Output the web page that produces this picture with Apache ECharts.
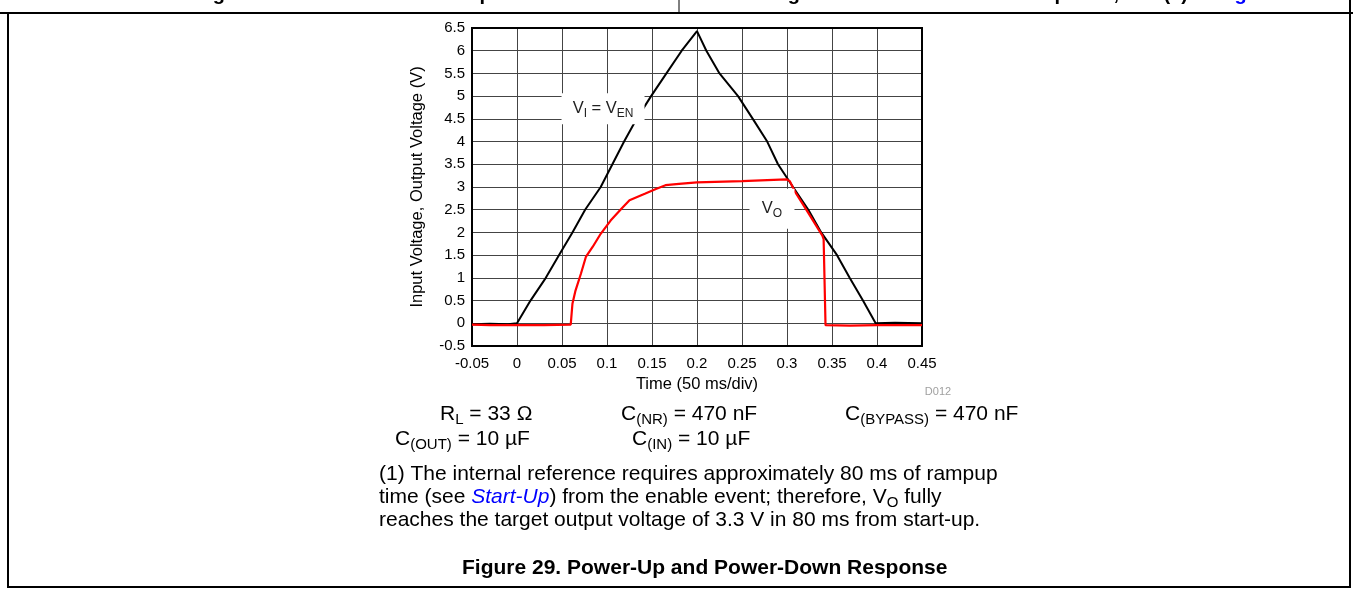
<!DOCTYPE html>
<html><head><meta charset="utf-8">
<script src="https://cdn.jsdelivr.net/npm/echarts@6/dist/echarts.min.js"></script>
<style>html,body{margin:0;padding:0;background:#fff}#c{width:1353px;height:592px}</style>
</head><body><div id="c"></div>
<script>
// ---- data ----
const xTickLabels = ['-0.05','0','0.05','0.1','0.15','0.2','0.25','0.3','0.35','0.4','0.45'];
const yTickLabels = ['-0.5','0','0.5','1','1.5','2','2.5','3','3.5','4','4.5','5','5.5','6','6.5'];
const viTime = [-0.05,-0.03,-0.01,0,0.015,0.032,0.0466,0.0616,0.0757,0.093,0.106,0.119,0.133,0.149,0.166,0.183,0.2,0.2104,0.225,0.2456,0.262,0.278,0.290,0.3067,0.3237,0.338,0.3556,0.3696,0.3844,0.3985,0.42,0.45];
const viVolt = [-0.02,-0.01,-0.02,0,0.5,1.0,1.5,2.0,2.5,3.0,3.5,4.0,4.5,5.0,5.5,6.0,6.43,6.0,5.5,5.0,4.5,4.0,3.5,3.0,2.5,2.0,1.5,1.0,0.5,0,0.01,0.0];
const voTime = [-0.05,-0.03,0,0.03,0.0597,0.0616,0.065,0.071,0.0765,0.084,0.093,0.104,0.116,0.125,0.142,0.155,0.165,0.18,0.2,0.25,0.2993,0.303,0.3085,0.3233,0.3393,0.3407,0.3428,0.37,0.4,0.45];
const voVolt = [-0.03,-0.04,-0.04,-0.04,-0.03,0.43,0.72,1.09,1.46,1.68,1.97,2.26,2.52,2.71,2.85,2.96,3.04,3.07,3.1,3.13,3.17,3.13,2.91,2.44,1.93,1.85,-0.04,-0.05,-0.04,-0.04];

const FONT = "'Liberation Sans', Arial, sans-serif";
const chart = echarts.init(document.getElementById('c'), null, {renderer:'canvas'});

const xMin = -0.05, xStep = 0.05, yMin = -0.5, yStep = 0.5;

chart.setOption({
  animation: false,
  backgroundColor: '#fff',
  grid: {left: 472, top: 28, width: 450, height: 318, show: true, borderColor: '#000', borderWidth: 2, backgroundColor: 'transparent', z: 3},
  xAxis: {
    type: 'value', min: xMin, max: 0.45, interval: xStep,
    name: 'Time (50 ms/div)', nameLocation: 'middle', nameGap: 29,
    nameTextStyle: {fontFamily: FONT, fontSize: 16.5, color: '#000'},
    axisLine: {show: false}, axisTick: {show: false},
    axisLabel: {fontFamily: FONT, fontSize: 15, color: '#000', margin: 10,
      formatter: v => xTickLabels[Math.round((v - xMin) / xStep)]},
    splitLine: {show: true, lineStyle: {color: '#444', width: 1}}
  },
  yAxis: {
    type: 'value', min: yMin, max: 6.5, interval: yStep,
    name: 'Input Voltage, Output Voltage (V)', nameLocation: 'middle', nameGap: 46, nameRotate: 90,
    nameTextStyle: {fontFamily: FONT, fontSize: 16.5, color: '#000'},
    axisLine: {show: false}, axisTick: {show: false},
    axisLabel: {fontFamily: FONT, fontSize: 15, color: '#000', margin: 7,
      formatter: v => yTickLabels[Math.round((v - yMin) / yStep)]},
    splitLine: {show: true, lineStyle: {color: '#444', width: 1}}
  },
  series: [
    {type: 'line', name: 'VI', data: viTime.map((t, i) => [t, viVolt[i]]), showSymbol: false, symbol: 'none',
     lineStyle: {color: '#000', width: 2}, z: 4},
    {type: 'line', name: 'VO', data: voTime.map((t, i) => [t, voVolt[i]]), showSymbol: false, symbol: 'none',
     lineStyle: {color: '#ff0000', width: 2.2}, z: 5}
  ]
});

// ---- annotations ----
function px(x, y) { return chart.convertToPixel({gridIndex: 0}, [x, y]); }
const viLab = px(0.0956, 4.72);
const voLab = px(0.2833, 2.52);

const rich = {
  n: {fontFamily: FONT, fontSize: 21, fill: '#000', lineHeight: 26},
  s: {fontFamily: FONT, fontSize: 15, fill: '#000', lineHeight: 14, verticalAlign: 'bottom'},
  b: {fontFamily: FONT, fontSize: 21, fill: '#0000ff', fontStyle: 'italic', lineHeight: 26},
  ln: {fontFamily: FONT, fontSize: 16.5, fill: '#222', lineHeight: 22},
  ls: {fontFamily: FONT, fontSize: 12, fill: '#222', lineHeight: 11, verticalAlign: 'bottom'}
};
function txt(x, y, text, align) {
  return {type: 'text', x: x, y: y, z: 50, style: {text: text, rich: rich, align: align || 'left', verticalAlign: 'middle', fill: '#000', font: '21px ' + FONT}};
}
function line(x1, y1, x2, y2, w) {
  return {type: 'line', z: 60, shape: {x1: x1, y1: y1, x2: x2, y2: y2}, style: {stroke: '#000', lineWidth: w || 2}};
}

chart.setOption({
  graphic: [
    // header row (clipped captions of the figures above)
    {type: 'text', x: 195, y: -6, z: 50, style: {text: 'Figure 27. Load Transient Response', font: 'bold 20px ' + FONT, fill: '#000', verticalAlign: 'middle'}},
    {type: 'text', x: 770, y: -6, z: 50, style: {text: '{a|Figure 28. Load Transient Response, see (1) in }{c|Figure 29}', verticalAlign: 'middle', fill: '#000',
      rich: {a: {fontFamily: FONT, fontSize: 20, fontWeight: 'bold', fill: '#000'}, c: {fontFamily: FONT, fontSize: 20, fontWeight: 'bold', fill: '#0000ff'}}}},
    line(0, 13, 1353, 13, 2),
    line(679, 0, 679, 13, 1),
    line(8, 13, 8, 588, 2),
    line(1350, 0, 1350, 588, 2),
    line(8, 587, 1350, 587, 2),
    // curve labels with white boxes
    {type: 'rect', z: 20, shape: {x: viLab[0] - 41.5, y: viLab[1] - 15.5, width: 83, height: 31}, style: {fill: '#fff'}},
    {type: 'text', x: viLab[0], y: viLab[1], z: 21, style: {text: '{ln|V}{ls|I}{ln| = V}{ls|EN}', rich: rich, align: 'center', verticalAlign: 'middle'}},
    {type: 'rect', z: 20, shape: {x: voLab[0] - 22.5, y: voLab[1] - 20, width: 45, height: 40}, style: {fill: '#fff'}},
    {type: 'text', x: voLab[0], y: voLab[1], z: 21, style: {text: '{ln|V}{ls|O}', rich: rich, align: 'center', verticalAlign: 'middle'}},
    {type: 'text', x: 938, y: 392, z: 50, style: {text: 'D012', font: '11px ' + FONT, fill: '#a0a0a0', align: 'center', verticalAlign: 'middle'}},
    // conditions
    txt(440, 414, '{n|R}{s|L}{n| = 33 Ω}'),
    txt(621, 414, '{n|C}{s|(NR)}{n| = 470 nF}'),
    txt(845, 414, '{n|C}{s|(BYPASS)}{n| = 470 nF}'),
    txt(395, 439, '{n|C}{s|(OUT)}{n| = 10 µF}'),
    txt(632, 439, '{n|C}{s|(IN)}{n| = 10 µF}'),
    txt(379, 474.5, '{n|(1) The internal reference requires approximately 80 ms of rampup}'),
    txt(379, 497.5, '{n|time (see }{b|Start-Up}{n|) from the enable event; therefore, V}{s|O}{n| fully}'),
    txt(379, 520.5, '{n|reaches the target output voltage of 3.3 V in 80 ms from start-up.}'),
    {type: 'text', x: 462, y: 568, z: 50, style: {text: 'Figure 29. Power-Up and Power-Down Response', font: 'bold 21px ' + FONT, fill: '#000', align: 'left', verticalAlign: 'middle'}}
  ]
});
</script>
</body></html>
